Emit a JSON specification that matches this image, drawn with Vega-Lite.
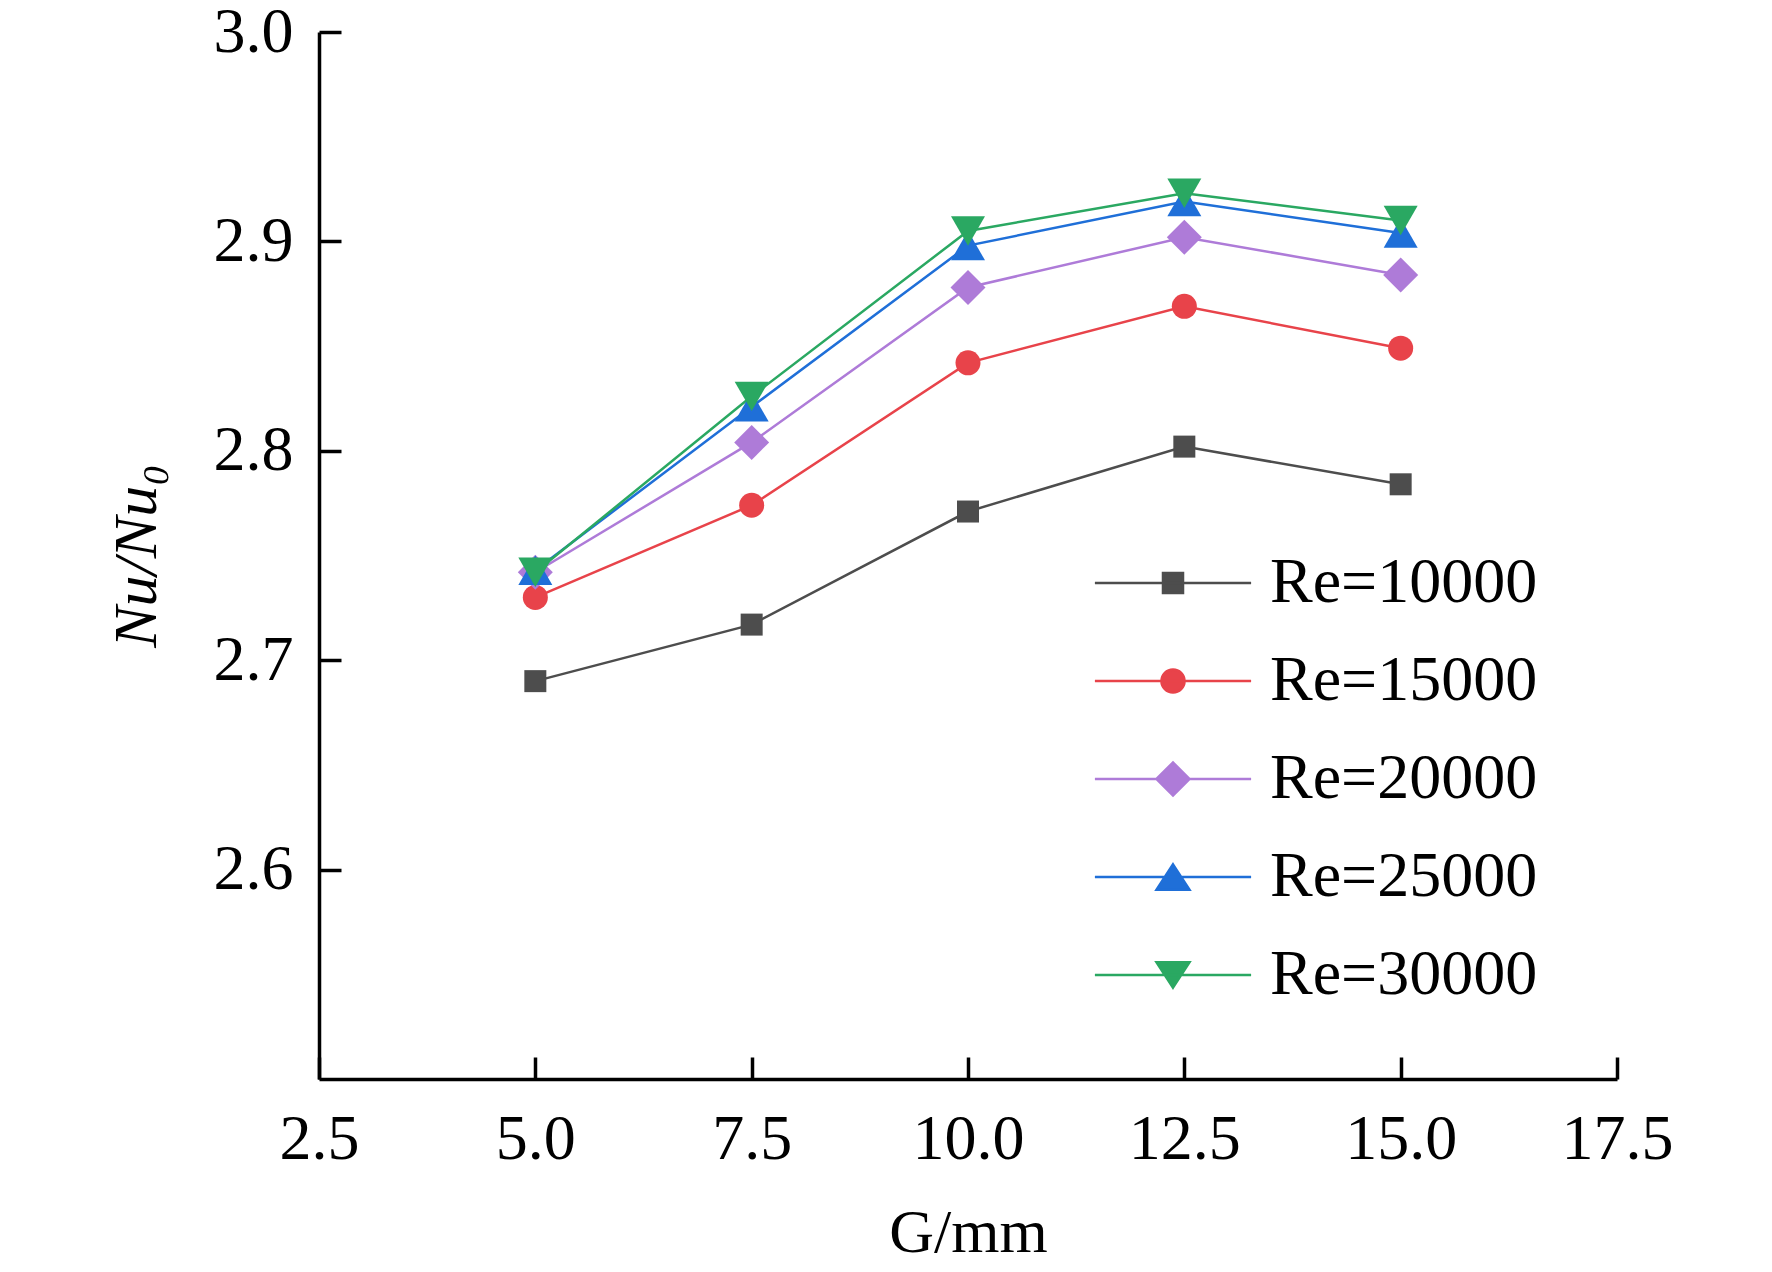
{
  "$schema": "https://vega.github.io/schema/vega-lite/v6.json",
  "autosize": {"type": "none"},
  "padding": {"left": 319, "top": 32, "right": 155, "bottom": 193},
  "width": 1298,
  "height": 1047,
  "background": "white",
  "config": {
    "view": {"stroke": null},
    "font": "Liberation Serif",
    "axis": {
      "grid": false,
      "domainColor": "black",
      "domainWidth": 3.5,
      "tickColor": "black",
      "tickWidth": 3.5,
      "tickSize": -22,
      "labelFlush": false,
      "labelFont": "Liberation Serif",
      "labelFontSize": 64,
      "labelColor": "black",
      "titleFont": "Liberation Serif",
      "titleFontSize": 62,
      "titleFontWeight": "normal",
      "titleColor": "black"
    },
    "legend": {
      "labelFont": "Liberation Serif",
      "labelFontSize": 64,
      "labelColor": "black",
      "labelLimit": 0
    }
  },
  "data": {
    "values": [
      {"G": 5.0, "Re": 10000, "ratio": 2.690},
      {"G": 7.5, "Re": 10000, "ratio": 2.717},
      {"G": 10.0, "Re": 10000, "ratio": 2.771},
      {"G": 12.5, "Re": 10000, "ratio": 2.802},
      {"G": 15.0, "Re": 10000, "ratio": 2.784},
      {"G": 5.0, "Re": 15000, "ratio": 2.730},
      {"G": 7.5, "Re": 15000, "ratio": 2.774},
      {"G": 10.0, "Re": 15000, "ratio": 2.842},
      {"G": 12.5, "Re": 15000, "ratio": 2.869},
      {"G": 15.0, "Re": 15000, "ratio": 2.849},
      {"G": 5.0, "Re": 20000, "ratio": 2.742},
      {"G": 7.5, "Re": 20000, "ratio": 2.804},
      {"G": 10.0, "Re": 20000, "ratio": 2.878},
      {"G": 12.5, "Re": 20000, "ratio": 2.902},
      {"G": 15.0, "Re": 20000, "ratio": 2.884},
      {"G": 5.0, "Re": 25000, "ratio": 2.743},
      {"G": 7.5, "Re": 25000, "ratio": 2.821},
      {"G": 10.0, "Re": 25000, "ratio": 2.898},
      {"G": 12.5, "Re": 25000, "ratio": 2.919},
      {"G": 15.0, "Re": 25000, "ratio": 2.904},
      {"G": 5.0, "Re": 30000, "ratio": 2.742},
      {"G": 7.5, "Re": 30000, "ratio": 2.826},
      {"G": 10.0, "Re": 30000, "ratio": 2.905},
      {"G": 12.5, "Re": 30000, "ratio": 2.923},
      {"G": 15.0, "Re": 30000, "ratio": 2.910}
    ]
  },
  "encoding": {
    "x": {
      "field": "G",
      "type": "quantitative",
      "title": "G/mm",
      "scale": {"domain": [2.5, 17.5], "nice": false, "zero": false},
      "axis": {
        "values": [2.5, 5, 7.5, 10, 12.5, 15, 17.5],
        "format": ".1f",
        "labelPadding": 50,
        "titlePadding": 31
      }
    },
    "y": {
      "field": "ratio",
      "type": "quantitative",
      "title": "Nu/Nu₀",
      "scale": {"domain": [2.5, 3.0], "nice": false, "zero": false},
      "axis": {
        "values": [2.6, 2.7, 2.8, 2.9, 3.0],
        "format": ".1f",
        "labelPadding": 48,
        "titlePadding": 45,
        "titleFontStyle": "italic"
      }
    },
    "color": {
      "field": "Re",
      "type": "nominal",
      "scale": {
        "domain": [10000, 15000, 20000, 25000, 30000],
        "range": ["#4d4d4d", "#e8434a", "#ae7bd8", "#1f6fd8", "#2aa862"]
      },
      "legend": {
        "title": null,
        "orient": "none",
        "legendX": 822,
        "legendY": 519,
        "padding": 0,
        "symbolSize": 484,
        "rowPadding": 34,
        "labelOffset": 65,
        "labelExpr": "'Re=' + datum.label",
        "encode": {
          "symbols": {
            "update": {
              "shape": {"signal": "datum.value == 10000 ? 'M-7.1,0H7.1M-0.91,-0.91H0.91V0.91H-0.91Z' : datum.value == 15000 ? 'M-7.1,0H7.1M-1.05,0A1.05,1.05,0,1,0,1.05,0A1.05,1.05,0,1,0,-1.05,0Z' : datum.value == 20000 ? 'M-7.1,0H7.1M-1.5,0L0,-1.5L1.5,0L0,1.5Z' : datum.value == 25000 ? 'M-7.1,0H7.1M0,-1.15L1.5,1.15H-1.5Z' : 'M-7.1,0H7.1M0,1.15L1.5,-1.15H-1.5Z'"},
              "size": {"value": 484},
              "stroke": {"scale": "color", "field": "value"},
              "fill": {"scale": "color", "field": "value"},
              "strokeWidth": {"value": 2.5},
              "opacity": {"value": 1}
            }
          }
        }
      }
    }
  },
  "layer": [
    {
      "mark": {"type": "line", "strokeWidth": 2.5}
    },
    {
      "mark": {"type": "point", "filled": true, "opacity": 1},
      "encoding": {
        "shape": {
          "field": "Re",
          "type": "nominal",
          "scale": {
            "range": ["square", "circle", "diamond", "triangle-up", "triangle-down"]
          },
          "legend": null
        },
        "size": {
          "field": "Re",
          "type": "ordinal",
          "scale": {
            "type": "ordinal",
            "range": [484, 625, 1225, 1156, 1156]
          },
          "legend": null
        }
      }
    }
  ]
}
